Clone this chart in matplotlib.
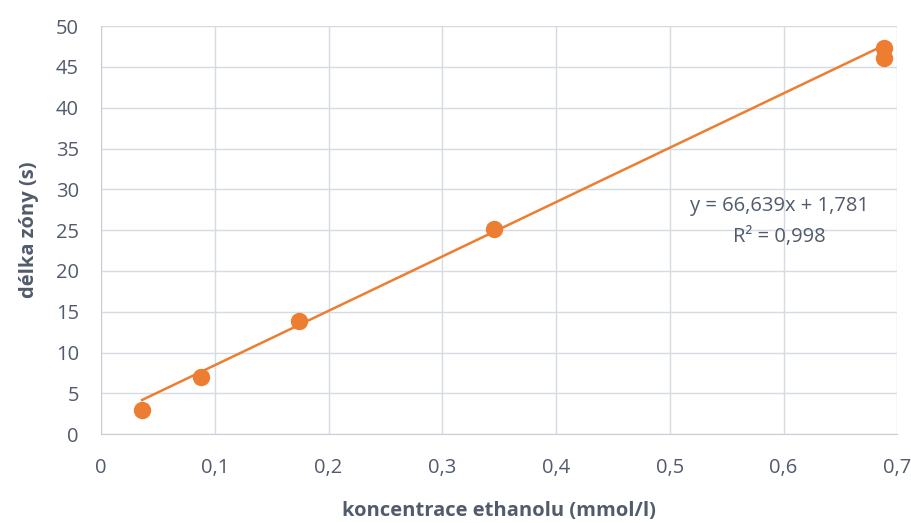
import numpy as np
import matplotlib
matplotlib.use("Agg")
import matplotlib.pyplot as plt

# data
koncentrace = [0.036, 0.088, 0.174, 0.345, 0.688, 0.688]
delka_zony = [2.9, 7.0, 13.8, 25.1, 47.3, 46.1]
slope, intercept = 66.639, 1.781
x_ticks = [0, 0.1, 0.2, 0.3, 0.4, 0.5, 0.6, 0.7]
y_ticks = [0, 5, 10, 15, 20, 25, 30, 35, 40, 45, 50]

orange = "#ED7D31"
txt = "#515b6b"
grid = "#d6dae2"

plt.rcParams["font.family"] = ["Open Sans", "DejaVu Sans"]

fig = plt.figure(figsize=(9.11, 5.23), dpi=100)
ax = fig.add_axes([0.111, 0.170, 0.874, 0.780])

# trendline
xl = np.array([min(koncentrace), max(koncentrace)])
ax.plot(xl, slope * xl + intercept, color=orange, lw=1.8, zorder=2)
ax.plot(koncentrace, delka_zony, "o", color=orange, ms=11.5, zorder=3)

ax.set_xlim(0, 0.7)
ax.set_ylim(0, 50)
ax.set_xticks(x_ticks)
ax.set_yticks(y_ticks)
ax.set_xticklabels([("%g" % v).replace(".", ",") for v in x_ticks])
ax.grid(True, color=grid, lw=1)
ax.set_axisbelow(True)
for s in ["top", "right"]:
    ax.spines[s].set_visible(False)
for s in ["left", "bottom"]:
    ax.spines[s].set_color("#c8cdd6")
ax.tick_params(length=0, colors=txt, labelsize=14.5)
ax.tick_params(axis="y", pad=16)
ax.tick_params(axis="x", pad=17)

ax.set_xlabel("koncentrace ethanolu (mmol/l)", fontsize=14.5, fontweight="bold",
              color=txt, labelpad=17)
ax.set_ylabel("délka zóny (s)", fontsize=14.5, fontweight="bold", color=txt, labelpad=12)

ax.text(0.596, 27.9, "y = 66,639x + 1,781", ha="center", va="center", fontsize=14.5, color=txt)
ax.text(0.596, 24.1, "R² = 0,998", ha="center", va="center", fontsize=14.5, color=txt)

fig.savefig("out.png", dpi=100)
